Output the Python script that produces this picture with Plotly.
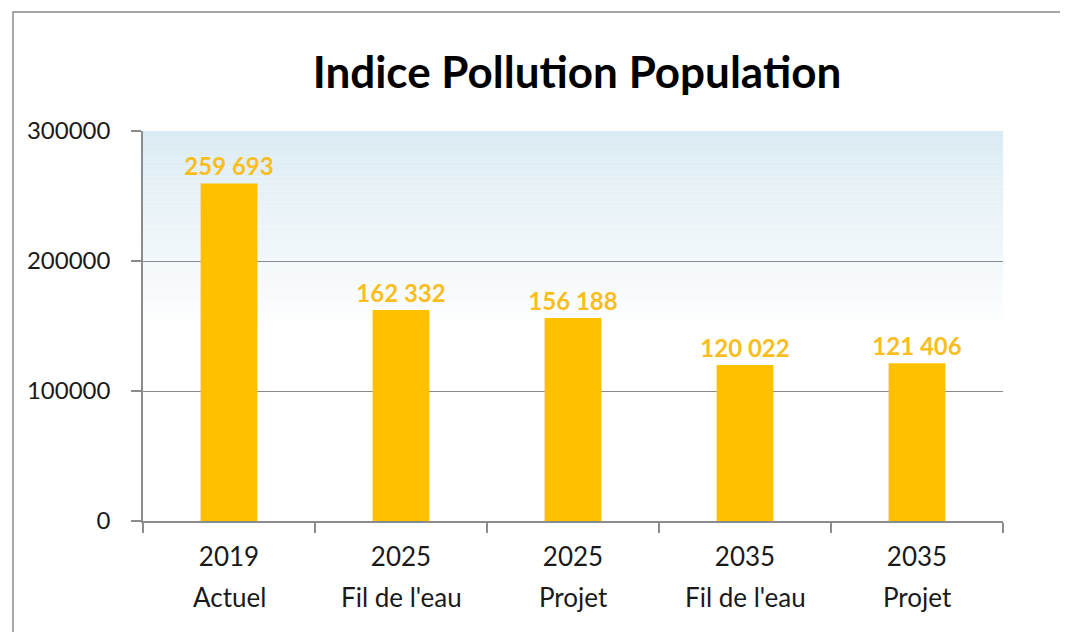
import plotly.graph_objects as go

years = ["2019", "2025", "2025", "2035", "2035"]
scenarios = ["Actuel", "Fil de l'eau", "Projet", "Fil de l'eau", "Projet"]
values = [259693, 162332, 156188, 120022, 121406]
y_ticks = [0, 100000, 200000, 300000]

categories = [f"{y} {s}" for y, s in zip(years, scenarios)]
labels = [f"{v:,}".replace(",", " ") for v in values]

FONT = "Lato"
BAR = "#FFC000"
GRID = "#8c8c8c"
TXT = "#1a1a1a"

fig = go.Figure()
fig.add_trace(go.Bar(
    x=categories, y=values, marker=dict(color=BAR, line=dict(width=0)),
    width=0.33, text=labels, textposition="outside", cliponaxis=False,
    constraintext="none",
    textfont=dict(family=FONT, size=24, color="#F9BE1E", weight="bold"),
    hoverinfo="skip",
))

shapes = []
# gradient background of plot area (light blue at top fading to white)
n = 40
top_c = (219, 235, 243)
ymin, ymax = 145000, 300000
for i in range(n):
    y0 = ymin + (ymax - ymin) * i / n
    y1 = ymin + (ymax - ymin) * (i + 1) / n
    t = (i + 0.5) / n
    c = tuple(int(round(255 + (tc - 255) * t)) for tc in top_c)
    shapes.append(dict(type="rect", xref="x domain", yref="y", x0=0, x1=1,
                       y0=y0, y1=y1, fillcolor=f"rgb{c}", line=dict(width=0),
                       layer="below"))
# outer chart frame
shapes.append(dict(type="rect", xref="paper", yref="paper",
                   x0=-130 / 860, x1=2.0, y0=-2.0, y1=(521 - 12) / 390,
                   line=dict(color="#8a8a8a", width=1.5), fillcolor="rgba(0,0,0,0)"))

annotations = [
    dict(x=c, y=(521 - 597) / 390, xref="x", yref="paper", text=s,
         showarrow=False, yanchor="middle",
         font=dict(family=FONT, size=26, color=TXT))
    for c, s in zip(categories, scenarios)
]

fig.update_layout(
    width=1068, height=632,
    margin=dict(l=135, r=73, t=123, b=119),
    paper_bgcolor="white", plot_bgcolor="rgba(0,0,0,0)",
    showlegend=False,
    title=dict(text="Indice Pollution Population", x=569 / 1068, xanchor="center",
               y=1 - 65 / 632, yanchor="middle",
               font=dict(family=FONT, size=44, color="black", weight="bold")),
    shapes=shapes, annotations=annotations,
    bargap=0.67,
)
fig.update_xaxes(
    tickmode="array", tickvals=categories, ticktext=years,
    tickfont=dict(family=FONT, size=26, color=TXT),
    ticklabelstandoff=12,
    showline=True, linecolor=GRID, linewidth=1.5,
    ticks="outside", ticklen=10, tickcolor=GRID, tickwidth=1.5,
    tickson="boundaries", showgrid=False,
)
fig.update_yaxes(
    range=[0, 300000], tickvals=y_ticks, ticktext=[str(v) for v in y_ticks],
    tickfont=dict(family=FONT, size=24, color=TXT),
    ticklabelstandoff=16,
    showline=True, linecolor=GRID, linewidth=1.5,
    ticks="outside", ticklen=10, tickcolor=GRID, tickwidth=1.5,
    showgrid=True, gridcolor=GRID, gridwidth=1.2, zeroline=False,
)

fig.write_html("out.html")
